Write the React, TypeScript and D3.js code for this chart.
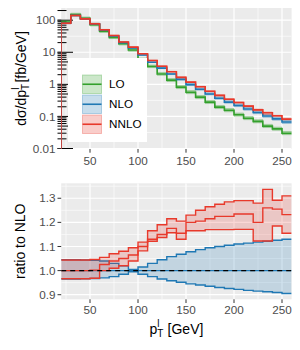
import * as d3 from 'd3'

// bin edges in GeV (24 bins of 10 GeV)
const binEdges = [20, 30, 40, 50, 60, 70, 80, 90, 100, 110, 120, 130, 140, 150, 160, 170, 180, 190, 200, 210, 220, 230, 240, 250, 260]

// differential cross sections [fb/GeV], central values
const loXs = [88, 150, 115, 72, 45, 29, 18.5, 11.8, 6.0, 3.6, 2.1, 1.35, 0.82, 0.57, 0.4, 0.28, 0.195, 0.155, 0.113, 0.088, 0.07, 0.05, 0.041, 0.03]
const nloXs = [80, 140, 110, 77, 49, 32, 20, 13.6, 8.2, 4.9, 3.2, 2.1, 1.43, 0.98, 0.7, 0.5, 0.37, 0.28, 0.22, 0.17, 0.133, 0.103, 0.084, 0.067]

// LO scale band relative to LO central
const loBandUp = [1.1, 1.1, 1.1, 1.1, 1.1, 1.1, 1.11, 1.11, 1.11, 1.11, 1.12, 1.12, 1.12, 1.12, 1.12, 1.12, 1.12, 1.13, 1.13, 1.13, 1.13, 1.13, 1.13, 1.13]
const loBandDown = [0.92, 0.92, 0.92, 0.92, 0.92, 0.92, 0.91, 0.91, 0.91, 0.91, 0.91, 0.91, 0.9, 0.9, 0.9, 0.9, 0.9, 0.9, 0.9, 0.9, 0.9, 0.9, 0.9, 0.9]

// ratios to NLO central
const nloRatioA = [1.045, 1.045, 1.044, 1.043, 1.04, 1.03, 1.02, 1.005, 0.985, 0.975, 0.965, 0.958, 0.952, 0.945, 0.94, 0.935, 0.93, 0.926, 0.922, 0.918, 0.915, 0.912, 0.909, 0.905]
const nloRatioB = [0.965, 0.965, 0.966, 0.967, 0.97, 0.975, 0.985, 0.995, 1.015, 1.03, 1.045, 1.058, 1.068, 1.078, 1.087, 1.095, 1.1, 1.105, 1.11, 1.114, 1.118, 1.122, 1.126, 1.13]
const nnloRatioMid = [1.0, 1.0, 1.0, 1.002, 1.025, 1.04, 1.05, 1.065, 1.1, 1.13, 1.15, 1.175, 1.155, 1.2, 1.205, 1.215, 1.225, 1.225, 1.235, 1.235, 1.2, 1.26, 1.255, 1.232]
const nnloRatioHi = [1.044, 1.044, 1.044, 1.046, 1.055, 1.07, 1.08, 1.095, 1.118, 1.165, 1.19, 1.215, 1.205, 1.23, 1.25, 1.265, 1.275, 1.285, 1.29, 1.29, 1.28, 1.337, 1.292, 1.31]
const nnloRatioLo = [0.966, 0.966, 0.966, 0.968, 1.0, 1.01, 1.02, 1.04, 1.082, 1.122, 1.137, 1.157, 1.13, 1.165, 1.165, 1.17, 1.17, 1.17, 1.171, 1.171, 1.123, 1.123, 1.185, 1.155]

const seriesNames = ['LO', 'NLO', 'NNLO']
const seriesColors = ['#33a02c', '#1f78b4', '#e8392b']

const xTicks = [50, 100, 150, 200, 250]
const xMinor = [25, 75, 125, 175, 225]
const yTopTicks = [0.01, 0.1, 1, 10, 100]
const yTopLabels = ['0.01', '0.1', '1', '10', '100']
const yTopMinor = [0.0316, 0.316, 3.16, 31.6]
const yRatioTicks = [0.9, 1.0, 1.1, 1.2, 1.3]
const yRatioMinor = [0.95, 1.05, 1.15, 1.25, 1.35]

const font = 'Liberation Sans, Arial, Helvetica, sans-serif'
const pL = 61.2, pR = 291.6
const topY0 = 8, topY1 = 149
const ratY0 = 183.3, ratY1 = 299.3

const x = d3.scaleLinear().domain([20, 260]).range([pL, pR])
const yTop = d3.scaleLog().domain([0.01, 240]).range([148.5, topY0])
const yRat = d3.scaleLinear().domain([0.881, 1.362]).range([ratY1, ratY0])

type P = [number, number]
type B = [number, number, number]

const stepLine = d3.line<P>().curve(d3.curveStepAfter)
const stepArea = d3.area<B>().x(d => d[0]).y0(d => d[1]).y1(d => d[2]).curve(d3.curveStepAfter)

const at = (vals: number[], i: number) => vals[Math.min(i, vals.length - 1)]

const linePts = (vals: number[], y: (v: number) => number): P[] =>
  binEdges.map((e, i) => [x(e), y(at(vals, i))] as P)

const bandPts = (lo: number[], hi: number[], y: (v: number) => number): B[] =>
  binEdges.map((e, i) => [x(e), y(at(lo, i)), y(at(hi, i))] as B)

export default function App() {
  const nnloXs = nloXs.map((v, i) => v * nnloRatioMid[i])
  const top = [
    { c: loXs, lo: loXs.map((v, i) => v * loBandDown[i]), hi: loXs.map((v, i) => v * loBandUp[i]) },
    { c: nloXs, lo: nloXs.map((v, i) => v * nloRatioB[i]), hi: nloXs.map((v, i) => v * nloRatioA[i]) },
    { c: nnloXs, lo: nloXs.map((v, i) => v * nnloRatioLo[i]), hi: nloXs.map((v, i) => v * nnloRatioHi[i]) },
  ]
  const nloOne = nloXs.map((v, i) => v / nloXs[i])

  const logTicks: { v: number; len: number }[] = []
  for (let k = -2; k <= 2; k++) {
    for (let m = 1; m <= 9; m++) {
      const v = m * Math.pow(10, k)
      if (v >= 0.01 && v <= 240) logTicks.push({ v, len: m === 1 ? 15.5 : m === 5 ? 11 : 9 })
    }
  }

  return (
    <svg width={300} height={350} style={{ position: 'absolute', left: 0, top: 0, background: '#fff' }} fontFamily={font}>
      <defs>
        <clipPath id='clipTop'><rect x={pL} y={topY0} width={pR - pL} height={topY1 - topY0} /></clipPath>
        <clipPath id='clipRat'><rect x={pL} y={ratY0} width={pR - pL} height={ratY1 - ratY0} /></clipPath>
      </defs>

      {/* top panel */}
      <rect x={pL} y={topY0} width={pR - pL} height={topY1 - topY0} fill='#ebebeb' />
      <g clipPath='url(#clipTop)'>
        {yTopMinor.map(v => <line key={v} x1={pL} x2={pR} y1={yTop(v)} y2={yTop(v)} stroke='#fff' strokeWidth={0.6} />)}
        {xMinor.map(v => <line key={v} x1={x(v)} x2={x(v)} y1={topY0} y2={topY1} stroke='#fff' strokeWidth={0.6} />)}
        {yTopTicks.map(v => <line key={v} x1={pL} x2={pR} y1={yTop(v)} y2={yTop(v)} stroke='#fff' strokeWidth={1.2} />)}
        {xTicks.map(v => <line key={v} x1={x(v)} x2={x(v)} y1={topY0} y2={topY1} stroke='#fff' strokeWidth={1.2} />)}
      </g>
      {logTicks.map(t => (
        <line key={t.v} x1={57.5} x2={57.5 + t.len} y1={yTop(t.v)} y2={yTop(t.v)} stroke='#000' strokeWidth={1} />
      ))}
      <g clipPath='url(#clipTop)'>
        {top.map((s, k) => (
          <g key={k}>
            <path d={stepArea(bandPts(s.lo, s.hi, yTop)) || ''} fill={seriesColors[k]} fillOpacity={0.3}
              stroke={seriesColors[k]} strokeOpacity={0.3} strokeWidth={1} />
            <path d={stepLine([[x(20), topY1 + 5] as P, ...linePts(s.c, yTop)]) || ''} fill='none'
              stroke={seriesColors[k]} strokeWidth={1.6} />
          </g>
        ))}
      </g>

      {/* legend */}
      <rect x={68} y={58} width={79} height={84} fill='#fff' />
      {seriesNames.map((n, k) => {
        const ky = 75 + k * 20
        return (
          <g key={n}>
            <rect x={82.5} y={ky} width={19} height={18.5} fill={seriesColors[k]} fillOpacity={0.25}
              stroke={seriesColors[k]} strokeOpacity={0.3} strokeWidth={1} />
            <line x1={82.5} x2={101.5} y1={ky + 9.25} y2={ky + 9.25} stroke={seriesColors[k]} strokeWidth={1.6} />
            <text x={109} y={ky + 9.25} dy='0.35em' fontSize={11.7} fill='#000'>{n}</text>
          </g>
        )
      })}

      {/* top axes */}
      {yTopTicks.map((v, i) => (
        <g key={v}>
          <line x1={pL - 3.7} x2={pL} y1={yTop(v)} y2={yTop(v)} stroke='#333' strokeWidth={1} />
          <text x={pL - 5.8} y={yTop(v)} dy='0.35em' textAnchor='end' fontSize={11.7} fill='#4d4d4d'>{yTopLabels[i]}</text>
        </g>
      ))}
      {xTicks.map(v => (
        <g key={v}>
          <line x1={x(v)} x2={x(v)} y1={topY1} y2={topY1 + 3.7} stroke='#333' strokeWidth={1} />
          <text x={x(v)} y={165} textAnchor='middle' fontSize={11.7} fill='#4d4d4d'>{v}</text>
        </g>
      ))}
      <text transform={`translate(26,${(topY0 + topY1) / 2}) rotate(-90)`} textAnchor='middle' fontSize={14} fill='#000'>
        dσ/dp<tspan fontSize={10} dy={3}>T</tspan><tspan fontSize={10} dx={-6} dy={-10}>l</tspan><tspan dx={5} dy={7}>[fb/GeV]</tspan>
      </text>

      {/* ratio panel */}
      <rect x={pL} y={ratY0} width={pR - pL} height={ratY1 - ratY0} fill='#ebebeb' />
      <g clipPath='url(#clipRat)'>
        {yRatioMinor.map(v => <line key={v} x1={pL} x2={pR} y1={yRat(v)} y2={yRat(v)} stroke='#fff' strokeWidth={0.6} />)}
        {xMinor.map(v => <line key={v} x1={x(v)} x2={x(v)} y1={ratY0} y2={ratY1} stroke='#fff' strokeWidth={0.6} />)}
        {yRatioTicks.map(v => <line key={v} x1={pL} x2={pR} y1={yRat(v)} y2={yRat(v)} stroke='#fff' strokeWidth={1.2} />)}
        {xTicks.map(v => <line key={v} x1={x(v)} x2={x(v)} y1={ratY0} y2={ratY1} stroke='#fff' strokeWidth={1.2} />)}

        <path d={stepArea(bandPts(nloRatioA, nloRatioB, yRat)) || ''} fill={seriesColors[1]} fillOpacity={0.2} />
        {[nloRatioA, nloRatioB, nloOne].map((r, i) => (
          <path key={i} d={stepLine(linePts(r, yRat)) || ''} fill='none' stroke={seriesColors[1]} strokeWidth={1.4} />
        ))}
        <path d={stepArea(bandPts(nnloRatioLo, nnloRatioHi, yRat)) || ''} fill={seriesColors[2]} fillOpacity={0.2} />
        {[nnloRatioLo, nnloRatioHi, nnloRatioMid].map((r, i) => (
          <path key={i} d={stepLine(linePts(r, yRat)) || ''} fill='none' stroke={seriesColors[2]} strokeWidth={1.4} />
        ))}
        <line x1={pL} x2={pR} y1={yRat(1)} y2={yRat(1)} stroke='#000' strokeWidth={1.4} strokeDasharray='5,4' />
      </g>
      {yRatioTicks.map(v => (
        <g key={v}>
          <line x1={pL - 3.7} x2={pL} y1={yRat(v)} y2={yRat(v)} stroke='#333' strokeWidth={1} />
          <text x={pL - 5.8} y={yRat(v)} dy='0.35em' textAnchor='end' fontSize={11.7} fill='#4d4d4d'>{d3.format('.1f')(v)}</text>
        </g>
      ))}
      {xTicks.map(v => (
        <g key={v}>
          <line x1={x(v)} x2={x(v)} y1={ratY1} y2={ratY1 + 3.7} stroke='#333' strokeWidth={1} />
          <text x={x(v)} y={314} textAnchor='middle' fontSize={11.7} fill='#4d4d4d'>{v}</text>
        </g>
      ))}
      <text transform={`translate(25,${(ratY0 + ratY1) / 2}) rotate(-90)`} textAnchor='middle' fontSize={14} fill='#000'>ratio to NLO</text>
      <text x={(pL + pR) / 2} y={334} textAnchor='middle' fontSize={14} fill='#000'>
        p<tspan fontSize={10} dy={3}>T</tspan><tspan fontSize={10} dx={-6} dy={-10}>l</tspan><tspan dx={8} dy={7}>[GeV]</tspan>
      </text>
    </svg>
  )
}
